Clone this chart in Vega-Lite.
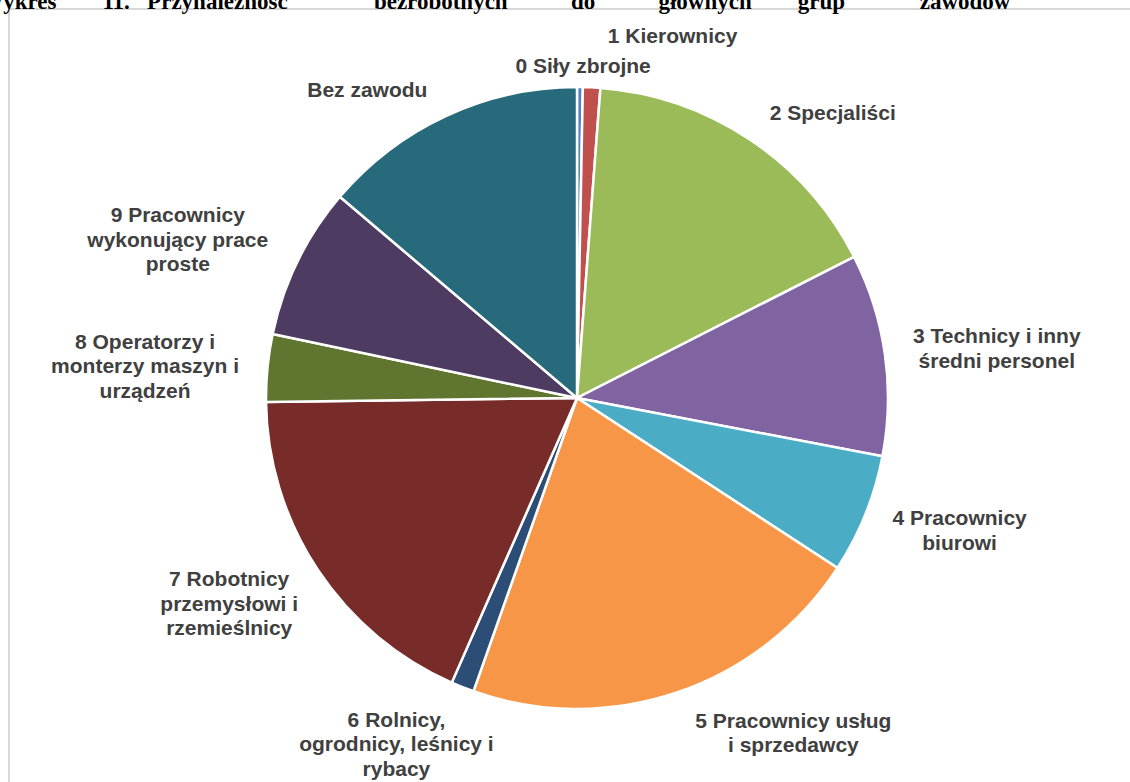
{
  "$schema": "https://vega.github.io/schema/vega-lite/v6.json",
  "autosize": {"type": "none"},
  "padding": {"left": 9, "top": 9, "right": 0, "bottom": 0},
  "width": 1136,
  "height": 778,
  "background": "white",
  "view": {"stroke": "#d9d9d9", "strokeWidth": 2},
  "title": {
    "text": "Wykres\u00a0\u00a0\u00a0\u00a0\u00a0\u00a0\u00a0\u00a011.\u00a0\u00a0\u00a0Przynależność\u00a0\u00a0\u00a0\u00a0\u00a0\u00a0\u00a0\u00a0\u00a0\u00a0\u00a0\u00a0\u00a0\u00a0\u00a0bezrobotnych\u00a0\u00a0\u00a0\u00a0\u00a0\u00a0\u00a0\u00a0\u00a0\u00a0\u00a0do\u00a0\u00a0\u00a0\u00a0\u00a0\u00a0\u00a0\u00a0\u00a0\u00a0\u00a0głównych\u00a0\u00a0\u00a0\u00a0\u00a0\u00a0\u00a0\u00a0grup\u00a0\u00a0\u00a0\u00a0\u00a0\u00a0\u00a0\u00a0\u00a0\u00a0\u00a0\u00a0\u00a0zawodów",
    "anchor": "start",
    "frame": "group",
    "offset": 0,
    "dx": -28,
    "dy": 23,
    "baseline": "alphabetic",
    "font": "Liberation Serif",
    "fontSize": 23,
    "fontWeight": "bold",
    "color": "#000000"
  },
  "data": {
    "values": [
      {"order": 0, "category": "0 Siły zbrojne", "label": "0 Siły zbrojne", "value": 0.3},
      {"order": 1, "category": "1 Kierownicy", "label": "1 Kierownicy", "value": 0.9},
      {"order": 2, "category": "2 Specjaliści", "label": "2 Specjaliści", "value": 16.3},
      {"order": 3, "category": "3 Technicy i inny średni personel", "label": "3 Technicy i inny\nśredni personel", "value": 10.5},
      {"order": 4, "category": "4 Pracownicy biurowi", "label": "4 Pracownicy\nbiurowi", "value": 6.2},
      {"order": 5, "category": "5 Pracownicy usług i sprzedawcy", "label": "5 Pracownicy usług\ni sprzedawcy", "value": 21.2},
      {"order": 6, "category": "6 Rolnicy, ogrodnicy, leśnicy i rybacy", "label": "6 Rolnicy,\nogrodnicy, leśnicy i\nrybacy", "value": 1.2},
      {"order": 7, "category": "7 Robotnicy przemysłowi i rzemieślnicy", "label": "7 Robotnicy\nprzemysłowi i\nrzemieślnicy", "value": 18.2},
      {"order": 8, "category": "8 Operatorzy i monterzy maszyn i urządzeń", "label": "8 Operatorzy i\nmonterzy maszyn i\nurządzeń", "value": 3.5},
      {"order": 9, "category": "9 Pracownicy wykonujący prace proste", "label": "9 Pracownicy\nwykonujący prace\nproste", "value": 7.9},
      {"order": 10, "category": "Bez zawodu", "label": "Bez zawodu", "value": 13.8}
    ]
  },
  "transform": [
    {"window": [{"op": "sum", "field": "value", "as": "cum"}], "sort": [{"field": "order"}], "frame": [null, 0]},
    {"calculate": "datum.cum - datum.value / 2", "as": "mid"}
  ],
  "layer": [
    {
      "mark": {"type": "arc", "radius": 311, "stroke": "#ffffff", "strokeWidth": 2.5},
      "encoding": {
        "theta": {"field": "value", "type": "quantitative", "stack": true, "scale": {"domain": [0, 100]}},
        "order": {"field": "order", "type": "quantitative"},
        "color": {
          "field": "category",
          "type": "nominal",
          "legend": null,
          "scale": {
            "domain": ["0 Siły zbrojne", "1 Kierownicy", "2 Specjaliści", "3 Technicy i inny średni personel", "4 Pracownicy biurowi", "5 Pracownicy usług i sprzedawcy", "6 Rolnicy, ogrodnicy, leśnicy i rybacy", "7 Robotnicy przemysłowi i rzemieślnicy", "8 Operatorzy i monterzy maszyn i urządzeń", "9 Pracownicy wykonujący prace proste", "Bez zawodu"],
            "range": ["#4F81BD", "#C0504D", "#9BBB59", "#8064A2", "#4BACC6", "#F79646", "#2C4D75", "#772C2A", "#5F7530", "#4D3B62", "#276A7C"]
          }
        }
      }
    },
    {"transform": [{"filter": "datum.order == 0"}], "mark": {"type": "text", "radius": 331, "dx": 3, "dy": 0},
     "encoding": {"theta": {"field": "mid", "type": "quantitative", "stack": null}, "text": {"field": "label"}}},
    {"transform": [{"filter": "datum.order == 1"}], "mark": {"type": "text", "radius": 373, "dx": 78, "dy": 12},
     "encoding": {"theta": {"field": "mid", "type": "quantitative", "stack": null}, "text": {"field": "label"}}},
    {"transform": [{"filter": "datum.order == 2"}], "mark": {"type": "text", "radius": 382, "dx": 44, "dy": 34},
     "encoding": {"theta": {"field": "mid", "type": "quantitative", "stack": null}, "text": {"field": "label"}}},
    {"transform": [{"filter": "datum.order == 3"}], "mark": {"type": "text", "radius": 423, "dx": 1, "dy": -1},
     "encoding": {"theta": {"field": "mid", "type": "quantitative", "stack": null}, "text": {"field": "label"}}},
    {"transform": [{"filter": "datum.order == 4"}], "mark": {"type": "text", "radius": 405, "dx": 7, "dy": -30},
     "encoding": {"theta": {"field": "mid", "type": "quantitative", "stack": null}, "text": {"field": "label"}}},
    {"transform": [{"filter": "datum.order == 5"}], "mark": {"type": "text", "radius": 400, "dx": 88, "dy": -55},
     "encoding": {"theta": {"field": "mid", "type": "quantitative", "stack": null}, "text": {"field": "label"}}},
    {"transform": [{"filter": "datum.order == 6"}], "mark": {"type": "text", "radius": 390, "dx": -37, "dy": -40},
     "encoding": {"theta": {"field": "mid", "type": "quantitative", "stack": null}, "text": {"field": "label"}}},
    {"transform": [{"filter": "datum.order == 7"}], "mark": {"type": "text", "radius": 405, "dx": -10, "dy": -41},
     "encoding": {"theta": {"field": "mid", "type": "quantitative", "stack": null}, "text": {"field": "label"}}},
    {"transform": [{"filter": "datum.order == 8"}], "mark": {"type": "text", "radius": 433, "dx": -1, "dy": -13},
     "encoding": {"theta": {"field": "mid", "type": "quantitative", "stack": null}, "text": {"field": "label"}}},
    {"transform": [{"filter": "datum.order == 9"}], "mark": {"type": "text", "radius": 429, "dx": -14, "dy": 7},
     "encoding": {"theta": {"field": "mid", "type": "quantitative", "stack": null}, "text": {"field": "label"}}},
    {"transform": [{"filter": "datum.order == 10"}], "mark": {"type": "text", "radius": 373, "dx": -53, "dy": 31},
     "encoding": {"theta": {"field": "mid", "type": "quantitative", "stack": null}, "text": {"field": "label"}}}
  ],
  "config": {
    "text": {
      "font": "Liberation Sans",
      "fontSize": 21,
      "fontWeight": "bold",
      "color": "#404040",
      "lineHeight": 24.5,
      "lineBreak": "\n",
      "align": "center",
      "baseline": "middle"
    }
  }
}
